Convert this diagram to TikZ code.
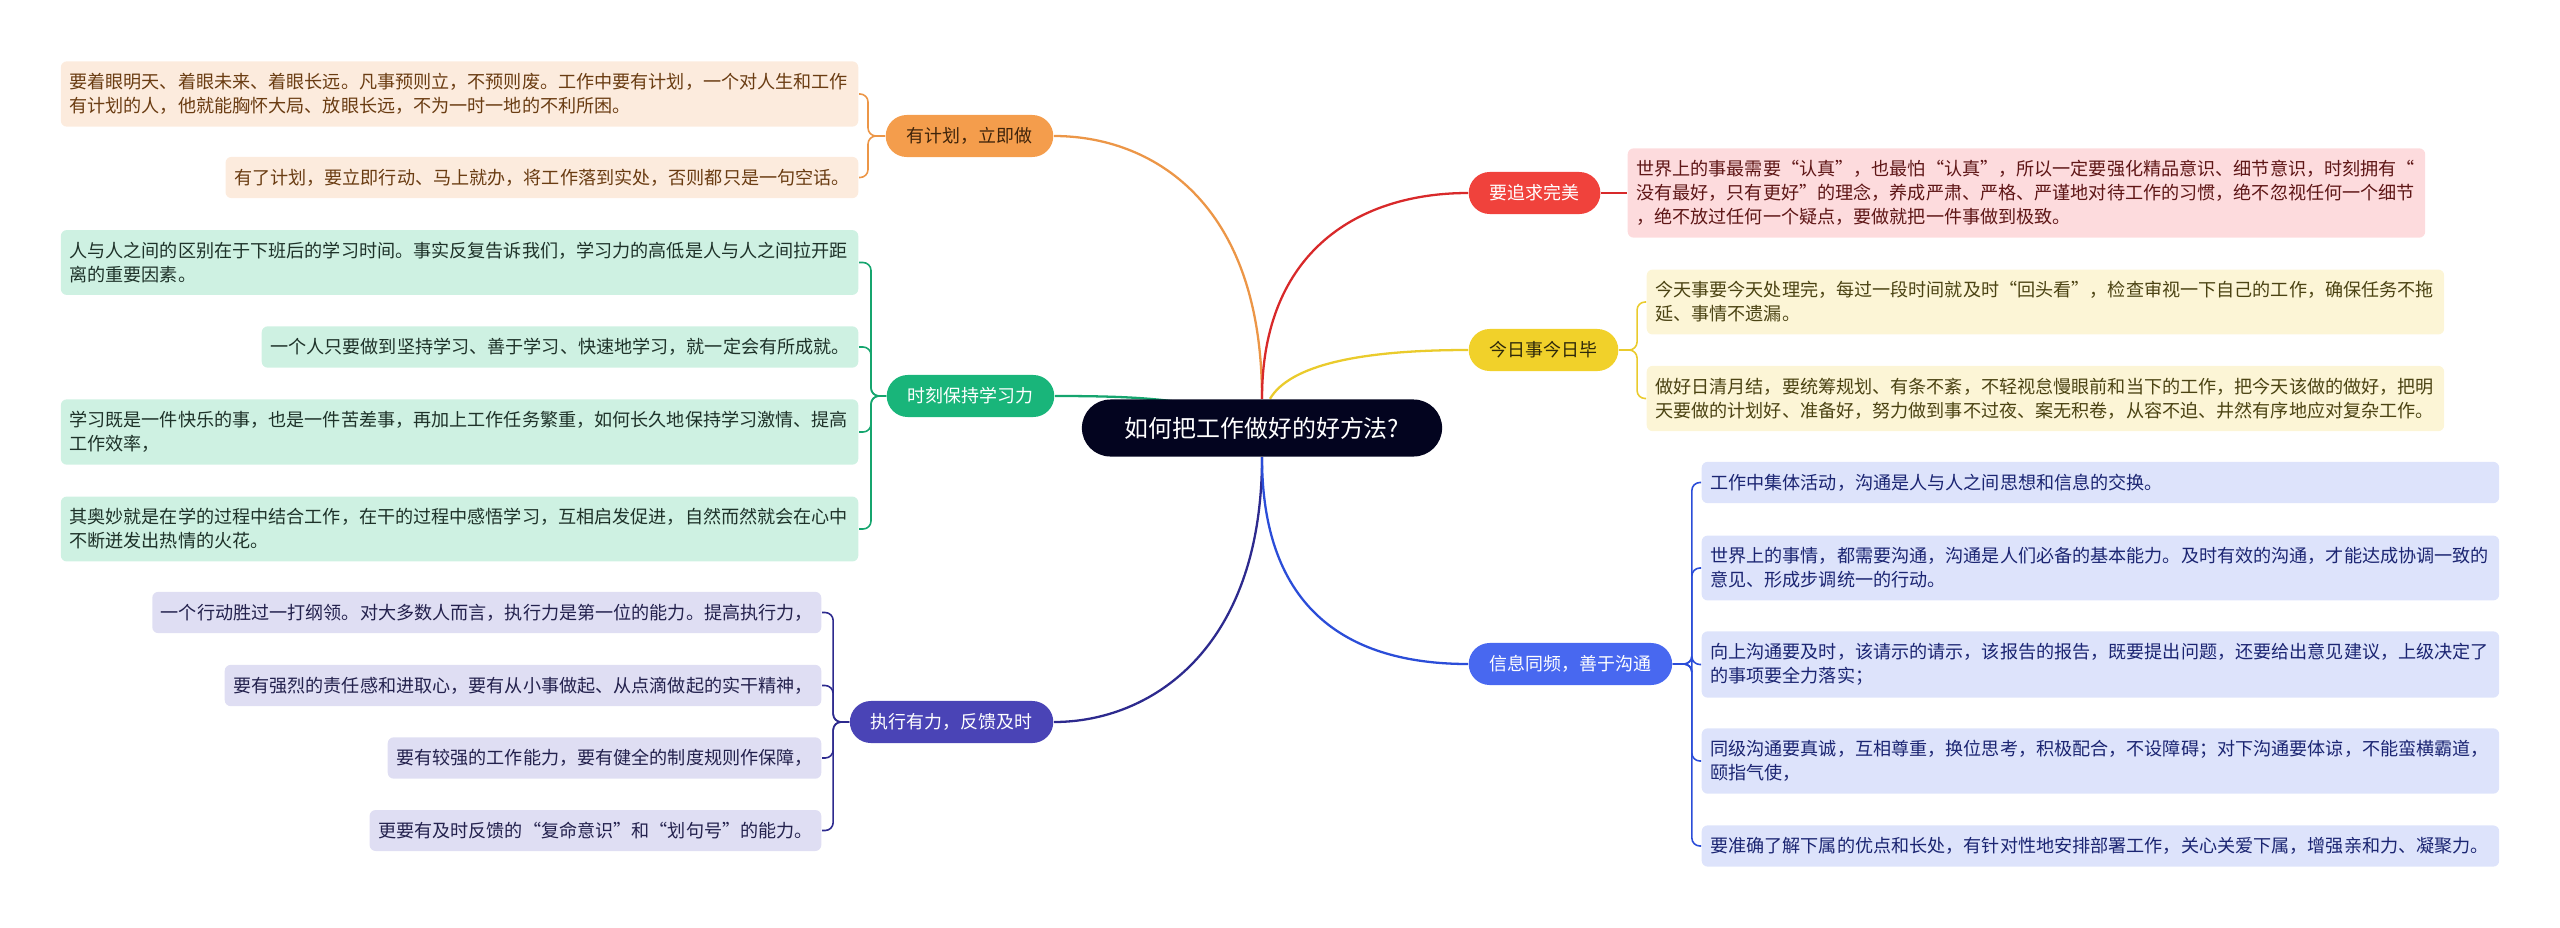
\documentclass[tikz,border=0pt]{standalone}
\usepackage{fontspec}
\setmainfont{Noto Sans CJK SC}
\usetikzlibrary{backgrounds}

\definecolor{scuro}{HTML}{03041F}
\definecolor{arancio}{HTML}{F49D4C}
\definecolor{arancioL}{HTML}{EC9647}
\definecolor{arancioF}{HTML}{FCEBDD}
\definecolor{arancioT}{HTML}{6A3C12}
\definecolor{verde}{HTML}{19B57A}
\definecolor{verdeL}{HTML}{15A56E}
\definecolor{verdeF}{HTML}{CEF1E2}
\definecolor{verdeT}{HTML}{1E3229}
\definecolor{viola}{HTML}{4A44B6}
\definecolor{violaL}{HTML}{2D2A8E}
\definecolor{violaF}{HTML}{DFDEF3}
\definecolor{violaT}{HTML}{23214D}
\definecolor{rosso}{HTML}{F0423C}
\definecolor{rossoL}{HTML}{D8292A}
\definecolor{rossoF}{HTML}{FDDBDD}
\definecolor{rossoT}{HTML}{5E1616}
\definecolor{giallo}{HTML}{F1D12A}
\definecolor{gialloL}{HTML}{EACB2C}
\definecolor{gialloF}{HTML}{FCF5D6}
\definecolor{gialloT}{HTML}{4B4313}
\definecolor{blu}{HTML}{4868F0}
\definecolor{bluL}{HTML}{2B4DD8}
\definecolor{bluF}{HTML}{DDE3FB}
\definecolor{bluT}{HTML}{1B2572}

\tikzset{
  radice/.style={rectangle, rounded corners=2.85mm, fill=scuro, text=white,
    minimum width=3.6cm, minimum height=0.57cm, font=\fontsize{6.8pt}{8pt}\selectfont},
  ramo/.style={rectangle, rounded corners=2.1mm, inner xsep=0.21cm, inner ysep=0pt,
    minimum height=0.42cm, font=\fontsize{5.1pt}{6pt}\selectfont},
  foglia/.style={rectangle, rounded corners=0.6mm, inner xsep=0.085cm, inner ysep=0.12cm,
    align=left, font=\fontsize{5.15pt}{6.83pt}\selectfont},
  lunga/.style={text width=7.8cm},
  conn/.style={line width=0.65pt},
  graffa/.style={line width=0.45pt, rounded corners=0.8mm},
}

\begin{document}
\begin{tikzpicture}[x=0.01cm, y=-0.01cm]
\useasboundingbox (0,0) rectangle (2560,927);
% centro
\node[radice] (root) at (1262,428) {如何把工作做好的好方法?};
% rami
\node[ramo, fill=arancio, text=arancioT!60!black, anchor=east] (piano) at (1054,136) {有计划，立即做};
\node[ramo, fill=verde, text=white, anchor=east] (studio) at (1055,396) {时刻保持学习力};
\node[ramo, fill=viola, text=white, anchor=east] (esegui) at (1054,722) {执行有力，反馈及时};
\node[ramo, fill=rosso, text=white, anchor=west] (perfetto) at (1468,193) {要追求完美};
\node[ramo, fill=giallo, text=gialloT!60!black, anchor=west] (oggi) at (1468,350) {今日事今日毕};
\node[ramo, fill=blu, text=white, anchor=west] (comunica) at (1468,664) {信息同频，善于沟通};
% foglie arancio
\node[foglia, lunga, fill=arancioF, text=arancioT, anchor=east] (o1) at (859,94)
  {要着眼明天、着眼未来、着眼长远。凡事预则立，不预则废。工作中要有计划，一个对人生和工作\\有计划的人，他就能胸怀大局、放眼长远，不为一时一地的不利所困。};
\node[foglia, fill=arancioF, text=arancioT, anchor=east] (o2) at (859,177.5)
  {有了计划，要立即行动、马上就办，将工作落到实处，否则都只是一句空话。};
% foglie verde
\node[foglia, lunga, fill=verdeF, text=verdeT, anchor=east] (g1) at (859,262.5)
  {人与人之间的区别在于下班后的学习时间。事实反复告诉我们，学习力的高低是人与人之间拉开距\\离的重要因素。};
\node[foglia, fill=verdeF, text=verdeT, anchor=east] (g2) at (859,347)
  {一个人只要做到坚持学习、善于学习、快速地学习，就一定会有所成就。};
\node[foglia, lunga, fill=verdeF, text=verdeT, anchor=east] (g3) at (859,432)
  {学习既是一件快乐的事，也是一件苦差事，再加上工作任务繁重，如何长久地保持学习激情、提高\\工作效率，};
\node[foglia, lunga, fill=verdeF, text=verdeT, anchor=east] (g4) at (859,529)
  {其奥妙就是在学的过程中结合工作，在干的过程中感悟学习，互相启发促进，自然而然就会在心中\\不断迸发出热情的火花。};
% foglie viola
\node[foglia, fill=violaF, text=violaT, anchor=east] (p1) at (822,612.5)
  {一个行动胜过一打纲领。对大多数人而言，执行力是第一位的能力。提高执行力，};
\node[foglia, fill=violaF, text=violaT, anchor=east] (p2) at (822,685.5)
  {要有强烈的责任感和进取心，要有从小事做起、从点滴做起的实干精神，};
\node[foglia, fill=violaF, text=violaT, anchor=east] (p3) at (822,758)
  {要有较强的工作能力，要有健全的制度规则作保障，};
\node[foglia, fill=violaF, text=violaT, anchor=east] (p4) at (822,830.5)
  {更要有及时反馈的“复命意识”和“划句号”的能力。};
% foglie rosso
\node[foglia, lunga, fill=rossoF, text=rossoT, anchor=west] (r1) at (1627,193)
  {世界上的事最需要“认真”，也最怕“认真”，所以一定要强化精品意识、细节意识，时刻拥有“\\没有最好，只有更好”的理念，养成严肃、严格、严谨地对待工作的习惯，绝不忽视任何一个细节\\，绝不放过任何一个疑点，要做就把一件事做到极致。};
% foglie giallo
\node[foglia, lunga, fill=gialloF, text=gialloT, anchor=west] (y1) at (1646,302)
  {今天事要今天处理完，每过一段时间就及时“回头看”，检查审视一下自己的工作，确保任务不拖\\延、事情不遗漏。};
\node[foglia, lunga, fill=gialloF, text=gialloT, anchor=west] (y2) at (1646,398.5)
  {做好日清月结，要统筹规划、有条不紊，不轻视怠慢眼前和当下的工作，把今天该做的做好，把明\\天要做的计划好、准备好，努力做到事不过夜、案无积卷，从容不迫、井然有序地应对复杂工作。};
% foglie blu
\node[foglia, lunga, fill=bluF, text=bluT, anchor=west] (b1) at (1701,482.5)
  {工作中集体活动，沟通是人与人之间思想和信息的交换。};
\node[foglia, lunga, fill=bluF, text=bluT, anchor=west] (b2) at (1701,568)
  {世界上的事情，都需要沟通，沟通是人们必备的基本能力。及时有效的沟通，才能达成协调一致的\\意见、形成步调统一的行动。};
\node[foglia, lunga, fill=bluF, text=bluT, anchor=west] (b3) at (1701,664.5)
  {向上沟通要及时，该请示的请示，该报告的报告，既要提出问题，还要给出意见建议，上级决定了\\的事项要全力落实；};
\node[foglia, lunga, fill=bluF, text=bluT, anchor=west] (b4) at (1701,761)
  {同级沟通要真诚，互相尊重，换位思考，积极配合，不设障碍；对下沟通要体谅，不能蛮横霸道，\\颐指气使，};
\node[foglia, lunga, fill=bluF, text=bluT, anchor=west] (b5) at (1701,846)
  {要准确了解下属的优点和长处，有针对性地安排部署工作，关心关爱下属，增强亲和力、凝聚力。};
% collegamenti
\begin{scope}[on background layer]
\draw[conn, arancioL] (root.north) .. controls (1262,200) and (1150,136) .. (piano.east);
\draw[conn, rossoL] (root.north) .. controls (1262,250) and (1360,193) .. (perfetto.west);
\draw[conn, gialloL] ([xshift=0.08cm]root.north) .. controls (1290,365) and (1360,350) .. (oggi.west);
\draw[conn, verdeL] (studio.east) .. controls (1150,396) and (1210,400) .. (root.center);
\draw[conn, violaL] (root.south) .. controls (1262,650) and (1150,722) .. (esegui.east);
\draw[conn, bluL] (root.south) .. controls (1262,620) and (1360,664) .. (comunica.west);
\end{scope}
% graffe
\foreach \f in {o1,o2} \draw[graffa, arancioL] (piano.west) -- ++(-17,0) |- (\f.east);
\foreach \f in {g1,g2,g3,g4} \draw[graffa, verdeL] (studio.west) -- ++(-15,0) |- (\f.east);
\foreach \f in {p1,p2,p3,p4} \draw[graffa, violaL] (esegui.west) -- ++(-16,0) |- (\f.east);
\draw[graffa, rossoL] (perfetto.east) -- (r1.west);
\foreach \f in {y1,y2} \draw[graffa, gialloL] (oggi.east) -- ++(18,0) |- (\f.west);
\foreach \f in {b1,b2,b3,b4,b5} \draw[graffa, bluL] (comunica.east) -- ++(19,0) |- (\f.west);
\end{tikzpicture}
\end{document}
